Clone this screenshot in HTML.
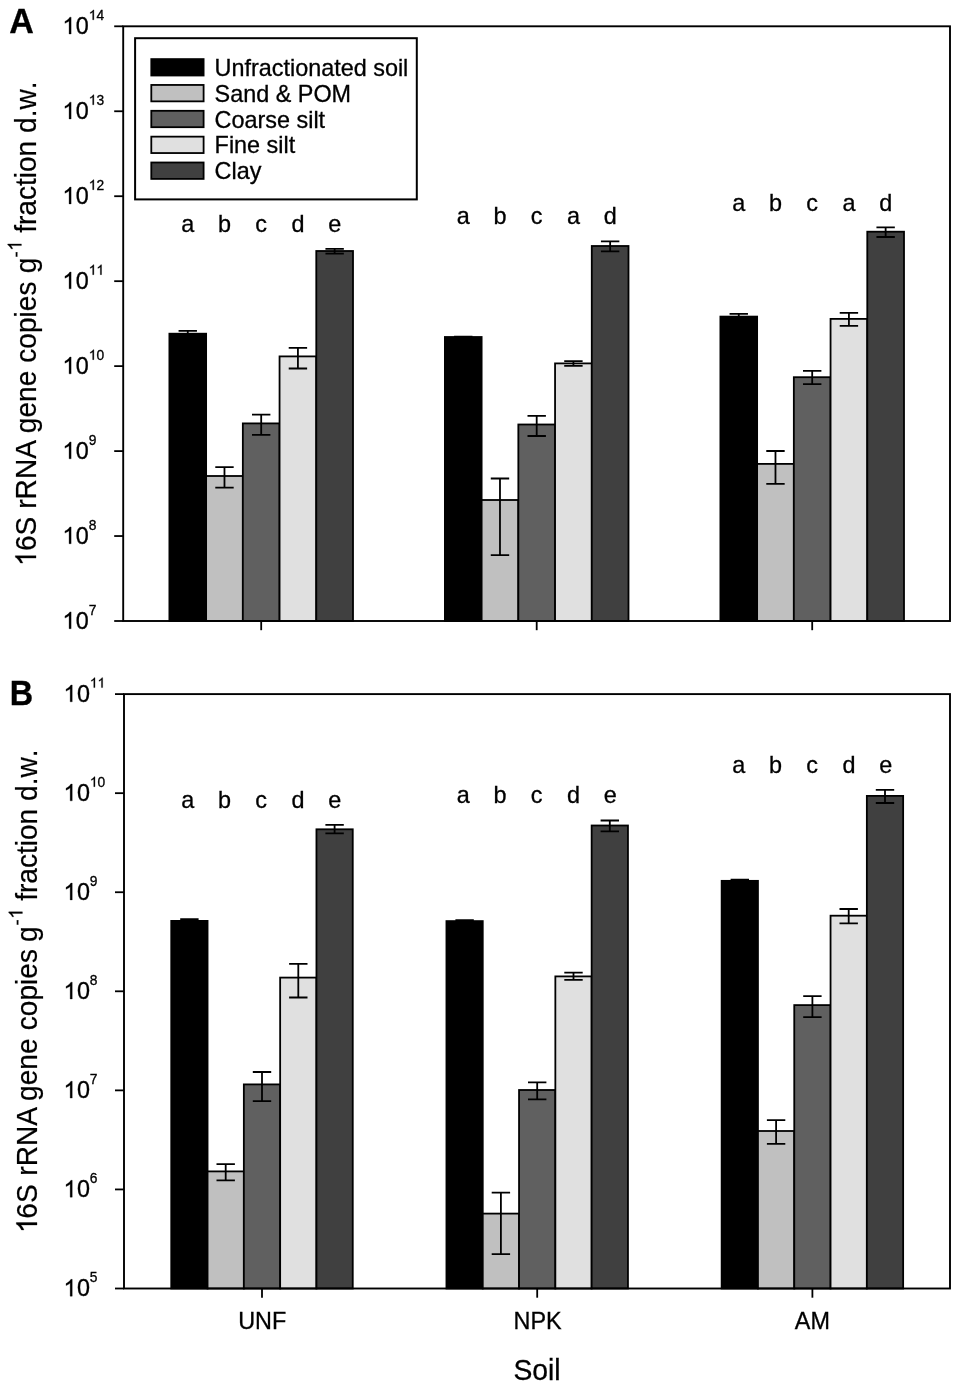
<!DOCTYPE html>
<html><head><meta charset="utf-8"><title>16S rRNA gene copies</title>
<style>html,body{margin:0;padding:0;background:#fff;}svg{display:block;will-change:transform;}text{font-family:"Liberation Sans", sans-serif;fill:#000;font-kerning:none;stroke:#000;stroke-width:0.3px;}.t text{stroke-width:0.2px;}</style></head><body>
<svg width="957" height="1387" viewBox="0 0 957 1387">
<rect x="0" y="0" width="957" height="1387" fill="#ffffff"/>
<g id="panelA">
<rect x="169.4" y="333.7" width="36.72" height="287.3" fill="#000000" stroke="#000" stroke-width="1.8"/>
<rect x="206.12" y="476" width="36.72" height="145" fill="#c0c0c0" stroke="#000" stroke-width="1.8"/>
<rect x="242.84" y="423.4" width="36.72" height="197.6" fill="#606060" stroke="#000" stroke-width="1.8"/>
<rect x="279.56" y="356.4" width="36.72" height="264.6" fill="#e0e0e0" stroke="#000" stroke-width="1.8"/>
<rect x="316.28" y="251" width="36.72" height="370" fill="#404040" stroke="#000" stroke-width="1.8"/>
<path d="M187.76 330.8V336.5M178.56 330.8H196.96M178.56 336.5H196.96" fill="none" stroke="#000" stroke-width="1.8"/>
<path d="M224.48 467.1V487.7M215.28 467.1H233.68M215.28 487.7H233.68" fill="none" stroke="#000" stroke-width="1.8"/>
<path d="M261.2 414.7V434.8M252 414.7H270.4M252 434.8H270.4" fill="none" stroke="#000" stroke-width="1.8"/>
<path d="M297.92 347.8V368.5M288.72 347.8H307.12M288.72 368.5H307.12" fill="none" stroke="#000" stroke-width="1.8"/>
<path d="M334.64 248.8V253.6M325.44 248.8H343.84M325.44 253.6H343.84" fill="none" stroke="#000" stroke-width="1.8"/>
<rect x="444.9" y="337" width="36.72" height="284" fill="#000000" stroke="#000" stroke-width="1.8"/>
<rect x="481.62" y="500" width="36.72" height="121" fill="#c0c0c0" stroke="#000" stroke-width="1.8"/>
<rect x="518.34" y="424.5" width="36.72" height="196.5" fill="#606060" stroke="#000" stroke-width="1.8"/>
<rect x="555.06" y="363.4" width="36.72" height="257.6" fill="#e0e0e0" stroke="#000" stroke-width="1.8"/>
<rect x="591.78" y="246" width="36.72" height="375" fill="#404040" stroke="#000" stroke-width="1.8"/>
<path d="M463.26 336.7V338.4M454.06 336.7H472.46M454.06 338.4H472.46" fill="none" stroke="#000" stroke-width="1.8"/>
<path d="M499.98 478.5V555.2M490.78 478.5H509.18M490.78 555.2H509.18" fill="none" stroke="#000" stroke-width="1.8"/>
<path d="M536.7 415.9V436M527.5 415.9H545.9M527.5 436H545.9" fill="none" stroke="#000" stroke-width="1.8"/>
<path d="M573.42 361.1V365.9M564.22 361.1H582.62M564.22 365.9H582.62" fill="none" stroke="#000" stroke-width="1.8"/>
<path d="M610.14 241.3V251.3M600.94 241.3H619.34M600.94 251.3H619.34" fill="none" stroke="#000" stroke-width="1.8"/>
<rect x="720.4" y="316.6" width="36.72" height="304.4" fill="#000000" stroke="#000" stroke-width="1.8"/>
<rect x="757.12" y="463.9" width="36.72" height="157.1" fill="#c0c0c0" stroke="#000" stroke-width="1.8"/>
<rect x="793.84" y="377.2" width="36.72" height="243.8" fill="#606060" stroke="#000" stroke-width="1.8"/>
<rect x="830.56" y="318.9" width="36.72" height="302.1" fill="#e0e0e0" stroke="#000" stroke-width="1.8"/>
<rect x="867.28" y="231.7" width="36.72" height="389.3" fill="#404040" stroke="#000" stroke-width="1.8"/>
<path d="M738.76 313.9V319.3M729.56 313.9H747.96M729.56 319.3H747.96" fill="none" stroke="#000" stroke-width="1.8"/>
<path d="M775.48 451V483.8M766.28 451H784.68M766.28 483.8H784.68" fill="none" stroke="#000" stroke-width="1.8"/>
<path d="M812.2 370.9V384.1M803 370.9H821.4M803 384.1H821.4" fill="none" stroke="#000" stroke-width="1.8"/>
<path d="M848.92 312.8V325.8M839.72 312.8H858.12M839.72 325.8H858.12" fill="none" stroke="#000" stroke-width="1.8"/>
<path d="M885.64 227.3V237M876.44 227.3H894.84M876.44 237H894.84" fill="none" stroke="#000" stroke-width="1.8"/>
<rect x="123.2" y="26.3" width="826.8" height="594.7" fill="none" stroke="#000" stroke-width="1.9"/>
<line x1="114.2" y1="26.3" x2="123.2" y2="26.3" stroke="#000" stroke-width="1.8"/>
<path d="M763 0H583V1147Q518 1085 412.5 1023T223 930V1104Q374 1175 487 1276T647 1472H763Z" stroke="#000" stroke-width="26.26" transform="translate(62.4 34) scale(0.01143 -0.01143)"/><text x="75.81" y="34" font-size="23.4">0</text><path d="M763 0H583V1147Q518 1085 412.5 1023T223 930V1104Q374 1175 487 1276T647 1472H763Z" stroke="#000" stroke-width="44.52" transform="translate(88.73 19.8) scale(0.00674 -0.00674)"/><text x="96.4" y="19.8" font-size="13.8">4</text>
<line x1="114.2" y1="111.26" x2="123.2" y2="111.26" stroke="#000" stroke-width="1.8"/>
<path d="M763 0H583V1147Q518 1085 412.5 1023T223 930V1104Q374 1175 487 1276T647 1472H763Z" stroke="#000" stroke-width="26.26" transform="translate(62.4 118.96) scale(0.01143 -0.01143)"/><text x="75.81" y="118.96" font-size="23.4">0</text><path d="M763 0H583V1147Q518 1085 412.5 1023T223 930V1104Q374 1175 487 1276T647 1472H763Z" stroke="#000" stroke-width="44.52" transform="translate(88.73 104.76) scale(0.00674 -0.00674)"/><text x="96.4" y="104.76" font-size="13.8">3</text>
<line x1="114.2" y1="196.21" x2="123.2" y2="196.21" stroke="#000" stroke-width="1.8"/>
<path d="M763 0H583V1147Q518 1085 412.5 1023T223 930V1104Q374 1175 487 1276T647 1472H763Z" stroke="#000" stroke-width="26.26" transform="translate(62.4 203.91) scale(0.01143 -0.01143)"/><text x="75.81" y="203.91" font-size="23.4">0</text><path d="M763 0H583V1147Q518 1085 412.5 1023T223 930V1104Q374 1175 487 1276T647 1472H763Z" stroke="#000" stroke-width="44.52" transform="translate(88.73 189.71) scale(0.00674 -0.00674)"/><text x="96.4" y="189.71" font-size="13.8">2</text>
<line x1="114.2" y1="281.17" x2="123.2" y2="281.17" stroke="#000" stroke-width="1.8"/>
<path d="M763 0H583V1147Q518 1085 412.5 1023T223 930V1104Q374 1175 487 1276T647 1472H763Z" stroke="#000" stroke-width="26.26" transform="translate(62.4 288.87) scale(0.01143 -0.01143)"/><text x="75.81" y="288.87" font-size="23.4">0</text><path d="M763 0H583V1147Q518 1085 412.5 1023T223 930V1104Q374 1175 487 1276T647 1472H763Z" stroke="#000" stroke-width="44.52" transform="translate(88.73 274.67) scale(0.00674 -0.00674)"/><path d="M763 0H583V1147Q518 1085 412.5 1023T223 930V1104Q374 1175 487 1276T647 1472H763Z" stroke="#000" stroke-width="44.52" transform="translate(96.4 274.67) scale(0.00674 -0.00674)"/>
<line x1="114.2" y1="366.13" x2="123.2" y2="366.13" stroke="#000" stroke-width="1.8"/>
<path d="M763 0H583V1147Q518 1085 412.5 1023T223 930V1104Q374 1175 487 1276T647 1472H763Z" stroke="#000" stroke-width="26.26" transform="translate(62.4 373.83) scale(0.01143 -0.01143)"/><text x="75.81" y="373.83" font-size="23.4">0</text><path d="M763 0H583V1147Q518 1085 412.5 1023T223 930V1104Q374 1175 487 1276T647 1472H763Z" stroke="#000" stroke-width="44.52" transform="translate(88.73 359.63) scale(0.00674 -0.00674)"/><text x="96.4" y="359.63" font-size="13.8">0</text>
<line x1="114.2" y1="451.09" x2="123.2" y2="451.09" stroke="#000" stroke-width="1.8"/>
<path d="M763 0H583V1147Q518 1085 412.5 1023T223 930V1104Q374 1175 487 1276T647 1472H763Z" stroke="#000" stroke-width="26.26" transform="translate(62.4 458.79) scale(0.01143 -0.01143)"/><text x="75.81" y="458.79" font-size="23.4">0</text><text x="88.73" y="444.59" font-size="13.8">9</text>
<line x1="114.2" y1="536.04" x2="123.2" y2="536.04" stroke="#000" stroke-width="1.8"/>
<path d="M763 0H583V1147Q518 1085 412.5 1023T223 930V1104Q374 1175 487 1276T647 1472H763Z" stroke="#000" stroke-width="26.26" transform="translate(62.4 543.74) scale(0.01143 -0.01143)"/><text x="75.81" y="543.74" font-size="23.4">0</text><text x="88.73" y="529.54" font-size="13.8">8</text>
<line x1="114.2" y1="621" x2="123.2" y2="621" stroke="#000" stroke-width="1.8"/>
<path d="M763 0H583V1147Q518 1085 412.5 1023T223 930V1104Q374 1175 487 1276T647 1472H763Z" stroke="#000" stroke-width="26.26" transform="translate(62.4 628.7) scale(0.01143 -0.01143)"/><text x="75.81" y="628.7" font-size="23.4">0</text><text x="88.73" y="614.5" font-size="13.8">7</text>
<line x1="261.2" y1="621" x2="261.2" y2="630.2" stroke="#000" stroke-width="1.8"/>
<line x1="536.7" y1="621" x2="536.7" y2="630.2" stroke="#000" stroke-width="1.8"/>
<line x1="812.2" y1="621" x2="812.2" y2="630.2" stroke="#000" stroke-width="1.8"/>
<text x="187.76" y="232.2" font-size="23.4" text-anchor="middle">a</text>
<text x="224.48" y="232.2" font-size="23.4" text-anchor="middle">b</text>
<text x="261.2" y="232.2" font-size="23.4" text-anchor="middle">c</text>
<text x="297.92" y="232.2" font-size="23.4" text-anchor="middle">d</text>
<text x="334.64" y="232.2" font-size="23.4" text-anchor="middle">e</text>
<text x="463.26" y="224.1" font-size="23.4" text-anchor="middle">a</text>
<text x="499.98" y="224.1" font-size="23.4" text-anchor="middle">b</text>
<text x="536.7" y="224.1" font-size="23.4" text-anchor="middle">c</text>
<text x="573.42" y="224.1" font-size="23.4" text-anchor="middle">a</text>
<text x="610.14" y="224.1" font-size="23.4" text-anchor="middle">d</text>
<text x="738.76" y="210.7" font-size="23.4" text-anchor="middle">a</text>
<text x="775.48" y="210.7" font-size="23.4" text-anchor="middle">b</text>
<text x="812.2" y="210.7" font-size="23.4" text-anchor="middle">c</text>
<text x="848.92" y="210.7" font-size="23.4" text-anchor="middle">a</text>
<text x="885.64" y="210.7" font-size="23.4" text-anchor="middle">d</text>
<g class="t" transform="translate(36 566.1) rotate(-90) scale(0.975 1)">
<path d="M763 0H583V1147Q518 1085 412.5 1023T223 930V1104Q374 1175 487 1276T647 1472H763Z" stroke="#000" stroke-width="21.33" transform="translate(0 0) scale(0.01406 -0.01406)"/>
<text x="15.5" y="0" font-size="28.8">6S</text>
<text x="58.84" y="0" font-size="28.8">rRNA</text>
<text x="136.31" y="0" font-size="28.8">gene</text>
<text x="208.59" y="0" font-size="28.8">copies</text>
<text x="300.45" y="0" font-size="28.8">g</text>
<text x="316.4" y="-13.6" font-size="19.0">-</text>
<path d="M763 0H583V1147Q518 1085 412.5 1023T223 930V1104Q374 1175 487 1276T647 1472H763Z" stroke="#000" stroke-width="32.34" transform="translate(323.33 -14.6) scale(0.00928 -0.00928)"/>
<text x="341.8" y="0" font-size="28.8">fraction d.w.</text>
</g>
</g>
<g id="panelB">
<rect x="171.25" y="920.9" width="36.3" height="367.6" fill="#000000" stroke="#000" stroke-width="1.8"/>
<rect x="207.55" y="1171.4" width="36.3" height="117.1" fill="#c0c0c0" stroke="#000" stroke-width="1.8"/>
<rect x="243.85" y="1084.4" width="36.3" height="204.1" fill="#606060" stroke="#000" stroke-width="1.8"/>
<rect x="280.15" y="977.6" width="36.3" height="310.9" fill="#e0e0e0" stroke="#000" stroke-width="1.8"/>
<rect x="316.45" y="829.3" width="36.3" height="459.2" fill="#404040" stroke="#000" stroke-width="1.8"/>
<path d="M189.4 919.2V922M180.2 919.2H198.6M180.2 922H198.6" fill="none" stroke="#000" stroke-width="1.8"/>
<path d="M225.7 1164.1V1180.4M216.5 1164.1H234.9M216.5 1180.4H234.9" fill="none" stroke="#000" stroke-width="1.8"/>
<path d="M262 1072V1101.2M252.8 1072H271.2M252.8 1101.2H271.2" fill="none" stroke="#000" stroke-width="1.8"/>
<path d="M298.3 963.8V997.5M289.1 963.8H307.5M289.1 997.5H307.5" fill="none" stroke="#000" stroke-width="1.8"/>
<path d="M334.6 824.9V833.4M325.4 824.9H343.8M325.4 833.4H343.8" fill="none" stroke="#000" stroke-width="1.8"/>
<rect x="446.45" y="921.1" width="36.3" height="367.4" fill="#000000" stroke="#000" stroke-width="1.8"/>
<rect x="482.75" y="1213.6" width="36.3" height="74.9" fill="#c0c0c0" stroke="#000" stroke-width="1.8"/>
<rect x="519.05" y="1090" width="36.3" height="198.5" fill="#606060" stroke="#000" stroke-width="1.8"/>
<rect x="555.35" y="976.4" width="36.3" height="312.1" fill="#e0e0e0" stroke="#000" stroke-width="1.8"/>
<rect x="591.65" y="825.5" width="36.3" height="463" fill="#404040" stroke="#000" stroke-width="1.8"/>
<path d="M464.6 920.2V922.1M455.4 920.2H473.8M455.4 922.1H473.8" fill="none" stroke="#000" stroke-width="1.8"/>
<path d="M500.9 1192.7V1254.2M491.7 1192.7H510.1M491.7 1254.2H510.1" fill="none" stroke="#000" stroke-width="1.8"/>
<path d="M537.2 1082.3V1099.3M528 1082.3H546.4M528 1099.3H546.4" fill="none" stroke="#000" stroke-width="1.8"/>
<path d="M573.5 972.6V979.9M564.3 972.6H582.7M564.3 979.9H582.7" fill="none" stroke="#000" stroke-width="1.8"/>
<path d="M609.8 820.5V831.3M600.6 820.5H619M600.6 831.3H619" fill="none" stroke="#000" stroke-width="1.8"/>
<rect x="721.65" y="880.85" width="36.3" height="407.65" fill="#000000" stroke="#000" stroke-width="1.8"/>
<rect x="757.95" y="1131" width="36.3" height="157.5" fill="#c0c0c0" stroke="#000" stroke-width="1.8"/>
<rect x="794.25" y="1005.1" width="36.3" height="283.4" fill="#606060" stroke="#000" stroke-width="1.8"/>
<rect x="830.55" y="915.7" width="36.3" height="372.8" fill="#e0e0e0" stroke="#000" stroke-width="1.8"/>
<rect x="866.85" y="795.9" width="36.3" height="492.6" fill="#404040" stroke="#000" stroke-width="1.8"/>
<path d="M739.8 879.6V882M730.6 879.6H749M730.6 882H749" fill="none" stroke="#000" stroke-width="1.8"/>
<path d="M776.1 1120.1V1143.9M766.9 1120.1H785.3M766.9 1143.9H785.3" fill="none" stroke="#000" stroke-width="1.8"/>
<path d="M812.4 996.2V1017.1M803.2 996.2H821.6M803.2 1017.1H821.6" fill="none" stroke="#000" stroke-width="1.8"/>
<path d="M848.7 909V923.4M839.5 909H857.9M839.5 923.4H857.9" fill="none" stroke="#000" stroke-width="1.8"/>
<path d="M885 789.9V803M875.8 789.9H894.2M875.8 803H894.2" fill="none" stroke="#000" stroke-width="1.8"/>
<rect x="124" y="694.1" width="826" height="594.4" fill="none" stroke="#000" stroke-width="1.9"/>
<line x1="115" y1="694.1" x2="124" y2="694.1" stroke="#000" stroke-width="1.8"/>
<path d="M763 0H583V1147Q518 1085 412.5 1023T223 930V1104Q374 1175 487 1276T647 1472H763Z" stroke="#000" stroke-width="26.26" transform="translate(63.5 701.8) scale(0.01143 -0.01143)"/><text x="76.91" y="701.8" font-size="23.4">0</text><path d="M763 0H583V1147Q518 1085 412.5 1023T223 930V1104Q374 1175 487 1276T647 1472H763Z" stroke="#000" stroke-width="44.52" transform="translate(89.83 687.6) scale(0.00674 -0.00674)"/><path d="M763 0H583V1147Q518 1085 412.5 1023T223 930V1104Q374 1175 487 1276T647 1472H763Z" stroke="#000" stroke-width="44.52" transform="translate(97.5 687.6) scale(0.00674 -0.00674)"/>
<line x1="115" y1="793.17" x2="124" y2="793.17" stroke="#000" stroke-width="1.8"/>
<path d="M763 0H583V1147Q518 1085 412.5 1023T223 930V1104Q374 1175 487 1276T647 1472H763Z" stroke="#000" stroke-width="26.26" transform="translate(63.5 800.87) scale(0.01143 -0.01143)"/><text x="76.91" y="800.87" font-size="23.4">0</text><path d="M763 0H583V1147Q518 1085 412.5 1023T223 930V1104Q374 1175 487 1276T647 1472H763Z" stroke="#000" stroke-width="44.52" transform="translate(89.83 786.67) scale(0.00674 -0.00674)"/><text x="97.5" y="786.67" font-size="13.8">0</text>
<line x1="115" y1="892.23" x2="124" y2="892.23" stroke="#000" stroke-width="1.8"/>
<path d="M763 0H583V1147Q518 1085 412.5 1023T223 930V1104Q374 1175 487 1276T647 1472H763Z" stroke="#000" stroke-width="26.26" transform="translate(63.5 899.93) scale(0.01143 -0.01143)"/><text x="76.91" y="899.93" font-size="23.4">0</text><text x="89.83" y="885.73" font-size="13.8">9</text>
<line x1="115" y1="991.3" x2="124" y2="991.3" stroke="#000" stroke-width="1.8"/>
<path d="M763 0H583V1147Q518 1085 412.5 1023T223 930V1104Q374 1175 487 1276T647 1472H763Z" stroke="#000" stroke-width="26.26" transform="translate(63.5 999) scale(0.01143 -0.01143)"/><text x="76.91" y="999" font-size="23.4">0</text><text x="89.83" y="984.8" font-size="13.8">8</text>
<line x1="115" y1="1090.37" x2="124" y2="1090.37" stroke="#000" stroke-width="1.8"/>
<path d="M763 0H583V1147Q518 1085 412.5 1023T223 930V1104Q374 1175 487 1276T647 1472H763Z" stroke="#000" stroke-width="26.26" transform="translate(63.5 1098.07) scale(0.01143 -0.01143)"/><text x="76.91" y="1098.07" font-size="23.4">0</text><text x="89.83" y="1083.87" font-size="13.8">7</text>
<line x1="115" y1="1189.43" x2="124" y2="1189.43" stroke="#000" stroke-width="1.8"/>
<path d="M763 0H583V1147Q518 1085 412.5 1023T223 930V1104Q374 1175 487 1276T647 1472H763Z" stroke="#000" stroke-width="26.26" transform="translate(63.5 1197.13) scale(0.01143 -0.01143)"/><text x="76.91" y="1197.13" font-size="23.4">0</text><text x="89.83" y="1182.93" font-size="13.8">6</text>
<line x1="115" y1="1288.5" x2="124" y2="1288.5" stroke="#000" stroke-width="1.8"/>
<path d="M763 0H583V1147Q518 1085 412.5 1023T223 930V1104Q374 1175 487 1276T647 1472H763Z" stroke="#000" stroke-width="26.26" transform="translate(63.5 1296.2) scale(0.01143 -0.01143)"/><text x="76.91" y="1296.2" font-size="23.4">0</text><text x="89.83" y="1282" font-size="13.8">5</text>
<line x1="262" y1="1288.5" x2="262" y2="1297.7" stroke="#000" stroke-width="1.8"/>
<line x1="537.2" y1="1288.5" x2="537.2" y2="1297.7" stroke="#000" stroke-width="1.8"/>
<line x1="812.4" y1="1288.5" x2="812.4" y2="1297.7" stroke="#000" stroke-width="1.8"/>
<text x="187.76" y="807.8" font-size="23.4" text-anchor="middle">a</text>
<text x="224.48" y="807.8" font-size="23.4" text-anchor="middle">b</text>
<text x="261.2" y="807.8" font-size="23.4" text-anchor="middle">c</text>
<text x="297.92" y="807.8" font-size="23.4" text-anchor="middle">d</text>
<text x="334.64" y="807.8" font-size="23.4" text-anchor="middle">e</text>
<text x="463.26" y="803" font-size="23.4" text-anchor="middle">a</text>
<text x="499.98" y="803" font-size="23.4" text-anchor="middle">b</text>
<text x="536.7" y="803" font-size="23.4" text-anchor="middle">c</text>
<text x="573.42" y="803" font-size="23.4" text-anchor="middle">d</text>
<text x="610.14" y="803" font-size="23.4" text-anchor="middle">e</text>
<text x="738.76" y="773" font-size="23.4" text-anchor="middle">a</text>
<text x="775.48" y="773" font-size="23.4" text-anchor="middle">b</text>
<text x="812.2" y="773" font-size="23.4" text-anchor="middle">c</text>
<text x="848.92" y="773" font-size="23.4" text-anchor="middle">d</text>
<text x="885.64" y="773" font-size="23.4" text-anchor="middle">e</text>
<g class="t" transform="translate(37 1233) rotate(-90) scale(0.975 1)">
<path d="M763 0H583V1147Q518 1085 412.5 1023T223 930V1104Q374 1175 487 1276T647 1472H763Z" stroke="#000" stroke-width="21.33" transform="translate(0 0) scale(0.01406 -0.01406)"/>
<text x="14.68" y="0" font-size="28.8">6S</text>
<text x="58.84" y="0" font-size="28.8">rRNA</text>
<text x="135.49" y="0" font-size="28.8">gene</text>
<text x="207.97" y="0" font-size="28.8">copies</text>
<text x="298.56" y="0" font-size="28.8">g</text>
<text x="315.37" y="-13.6" font-size="19.0">-</text>
<path d="M763 0H583V1147Q518 1085 412.5 1023T223 930V1104Q374 1175 487 1276T647 1472H763Z" stroke="#000" stroke-width="32.34" transform="translate(322.3 -14.6) scale(0.00928 -0.00928)"/>
<text x="340.67" y="0" font-size="28.8">fraction d.w.</text>
</g>
</g>
<text transform="translate(9.15 32.6) scale(0.99 1)" font-size="34.4" font-weight="bold">A</text>
<text transform="translate(9.87 704.6) scale(0.942 1)" font-size="34.4" font-weight="bold">B</text>
<g id="legend">
<rect x="135.1" y="38.2" width="281.7" height="161.2" fill="#fff" stroke="#000" stroke-width="2"/>
<rect x="151.3" y="59.1" width="52.3" height="16.4" fill="#000000" stroke="#000" stroke-width="1.8"/>
<text x="214.6" y="75.8" font-size="23.4">Unfractionated soil</text>
<rect x="151.3" y="84.95" width="52.3" height="16.4" fill="#c0c0c0" stroke="#000" stroke-width="1.8"/>
<text x="214.6" y="101.65" font-size="23.4">Sand &amp; POM</text>
<rect x="151.3" y="110.8" width="52.3" height="16.4" fill="#606060" stroke="#000" stroke-width="1.8"/>
<text x="214.6" y="127.5" font-size="23.4">Coarse silt</text>
<rect x="151.3" y="136.65" width="52.3" height="16.4" fill="#e0e0e0" stroke="#000" stroke-width="1.8"/>
<text x="214.6" y="153.35" font-size="23.4">Fine silt</text>
<rect x="151.3" y="162.5" width="52.3" height="16.4" fill="#404040" stroke="#000" stroke-width="1.8"/>
<text x="214.6" y="179.2" font-size="23.4">Clay</text>
</g>
<text x="262.2" y="1329.1" font-size="23.4" text-anchor="middle">UNF</text>
<text x="537.6" y="1329.1" font-size="23.4" text-anchor="middle">NPK</text>
<text x="812.4" y="1329.1" font-size="23.4" text-anchor="middle">AM</text>
<text transform="translate(537.0 1379.9) scale(0.982 1)" font-size="28.8" text-anchor="middle">Soil</text>
</svg></body></html>
